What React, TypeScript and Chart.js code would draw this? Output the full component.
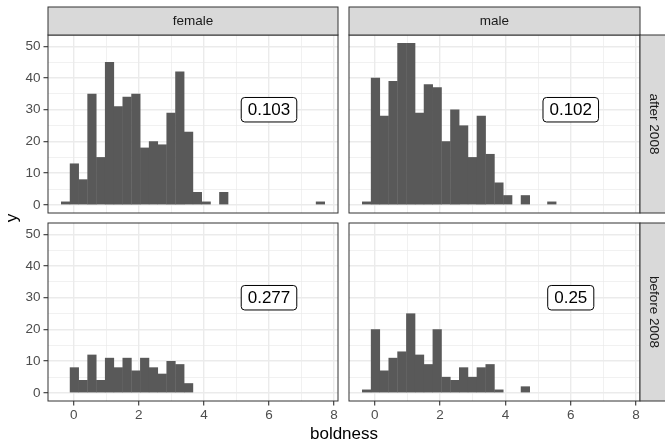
import { useEffect, useRef } from 'react';
import { Chart, registerables } from 'chart.js';
Chart.register(...registerables);

const W = 665;
const H = 441;
const FONT = '"Liberation Sans", Arial, Helvetica, sans-serif';

// histogram bin centres (boldness)
const binCenters = [
  -0.25, 0.02, 0.29, 0.56, 0.83, 1.1, 1.37, 1.64, 1.91, 2.18,
  2.45, 2.72, 2.99, 3.26, 3.53, 3.8, 4.07, 4.34, 4.61, 4.88,
  5.15, 5.42, 5.69, 5.96, 6.23, 6.5, 6.77, 7.04, 7.31, 7.58,
];
const femaleAfter = [1, 13, 8, 35, 15, 45, 31, 34, 35, 18, 20, 19, 29, 42, 23, 4, 1, 0, 4, 0, 0, 0, 0, 0, 0, 0, 0, 0, 0, 1];
const maleAfter = [1, 40, 28, 39, 51, 51, 29, 38, 37, 20, 30, 25, 15, 28, 16, 7, 3, 0, 3, 0, 0, 1, 0, 0, 0, 0, 0, 0, 0, 0];
const femaleBefore = [0, 8, 4, 12, 4, 11, 8, 11, 7, 11, 8, 6, 10, 9, 3, 0, 0, 0, 0, 0, 0, 0, 0, 0, 0, 0, 0, 0, 0, 0];
const maleBefore = [1, 20, 7, 11, 13, 25, 12, 9, 20, 5, 4, 8, 5, 8, 9, 1, 0, 0, 2, 0, 0, 0, 0, 0, 0, 0, 0, 0, 0, 0];

const colFacets = ['female', 'male'];
const rowFacets = ['after 2008', 'before 2008'];
const panelLabels = ['0.103', '0.102', '0.277', '0.25'];
const labelPos = [6, 30];

const xTickLabels = [0, 2, 4, 6, 8];
const xMinorGrid = [1, 3, 5, 7];
const yTickLabels = [0, 10, 20, 30, 40, 50];
const yMinorGrid = [5, 15, 25, 35, 45];
const xLimits = [-0.79, 8.12];
const yLimits = [-2.55, 53.55];

const xTitle = 'boldness';
const yTitle = 'y';

type Panel = {
  counts: number[];
  label: string;
  l: number; r: number; t: number; b: number;
  showY: boolean; showX: boolean;
  top?: string; right?: string; titles?: boolean;
};

const panels: Panel[] = [
  { counts: femaleAfter, label: panelLabels[0], l: 48, r: 338, t: 35, b: 213, showY: true, showX: false, top: colFacets[0] },
  { counts: maleAfter, label: panelLabels[1], l: 349, r: 640, t: 35, b: 213, showY: false, showX: false, top: colFacets[1], right: rowFacets[0] },
  { counts: femaleBefore, label: panelLabels[2], l: 48, r: 338, t: 223, b: 401, showY: true, showX: true, titles: true },
  { counts: maleBefore, label: panelLabels[3], l: 349, r: 640, t: 223, b: 401, showY: false, showX: true, right: rowFacets[1] },
];

function roundRect(ctx: CanvasRenderingContext2D, x: number, y: number, w: number, h: number, r: number) {
  ctx.beginPath();
  ctx.moveTo(x + r, y);
  ctx.arcTo(x + w, y, x + w, y + h, r);
  ctx.arcTo(x + w, y + h, x, y + h, r);
  ctx.arcTo(x, y + h, x, y, r);
  ctx.arcTo(x, y, x + w, y, r);
  ctx.closePath();
}

function makeConfig(p: Panel): any {
  const yW = p.showY ? p.l : 0;
  const xH = p.showX ? H - p.b : 0;
  const facetPlugin = {
    id: 'facet',
    afterDraw(chart: any) {
      const ctx: CanvasRenderingContext2D = chart.ctx;
      const a = chart.chartArea;
      ctx.save();
      // panel border
      ctx.strokeStyle = '#333333';
      ctx.lineWidth = 1;
      ctx.strokeRect(a.left, a.top, a.right - a.left, a.bottom - a.top);
      // top strip
      if (p.top) {
        const sy = 7;
        ctx.fillStyle = '#d9d9d9';
        ctx.fillRect(a.left, sy, a.right - a.left, a.top - sy);
        ctx.strokeRect(a.left, sy, a.right - a.left, a.top - sy);
        ctx.fillStyle = '#1a1a1a';
        ctx.font = `13.5px ${FONT}`;
        ctx.textAlign = 'center';
        ctx.textBaseline = 'middle';
        ctx.fillText(p.top, (a.left + a.right) / 2, (sy + a.top) / 2 + 0.5);
      }
      // right strip
      if (p.right) {
        const sw = 28;
        ctx.fillStyle = '#d9d9d9';
        ctx.fillRect(a.right, a.top, sw, a.bottom - a.top);
        ctx.strokeRect(a.right, a.top, sw, a.bottom - a.top);
        ctx.save();
        ctx.translate(a.right + sw / 2 - 0.5, (a.top + a.bottom) / 2);
        ctx.rotate(Math.PI / 2);
        ctx.fillStyle = '#1a1a1a';
        ctx.font = `13.5px ${FONT}`;
        ctx.textAlign = 'center';
        ctx.textBaseline = 'middle';
        ctx.fillText(p.right, 0, 0);
        ctx.restore();
      }
      // stat label
      const px = chart.scales.x.getPixelForValue(labelPos[0]);
      const py = chart.scales.y.getPixelForValue(labelPos[1]);
      ctx.font = `17px ${FONT}`;
      const tw = ctx.measureText(p.label).width;
      const bw = tw + 13;
      const bh = 24.5;
      roundRect(ctx, px - bw / 2, py - bh / 2, bw, bh, 3.5);
      ctx.fillStyle = '#ffffff';
      ctx.fill();
      ctx.strokeStyle = '#000000';
      ctx.lineWidth = 1;
      ctx.stroke();
      ctx.fillStyle = '#000000';
      ctx.textAlign = 'center';
      ctx.textBaseline = 'middle';
      ctx.fillText(p.label, px, py + 0.5);
      // axis titles
      if (p.titles) {
        ctx.fillStyle = '#000000';
        ctx.font = `17px ${FONT}`;
        ctx.textAlign = 'center';
        ctx.textBaseline = 'alphabetic';
        ctx.fillText(xTitle, (48 + 640) / 2, 439);
        ctx.save();
        ctx.translate(12.5, (35 + 401) / 2);
        ctx.rotate(-Math.PI / 2);
        ctx.textBaseline = 'middle';
        ctx.fillText(yTitle, 0, 0);
        ctx.restore();
      }
      ctx.restore();
    },
  };

  const xMajor = (v: number) => xTickLabels.includes(v);
  const yMajor = (v: number) => yTickLabels.includes(v);

  return {
    type: 'bar',
    data: {
      datasets: [
        {
          data: binCenters.map((c, i) => ({ x: c, y: p.counts[i] === 0 ? null : p.counts[i] })),
          backgroundColor: '#595959',
          borderWidth: 0,
          inflateAmount: 0.2,
          barPercentage: 1,
          categoryPercentage: 1,
        },
      ],
    },
    options: {
      responsive: false,
      animation: false,
      devicePixelRatio: 1,
      layout: {
        padding: {
          left: p.showY ? 0 : p.l,
          right: W - p.r,
          top: p.t,
          bottom: p.showX ? 0 : H - p.b,
        },
      },
      plugins: {
        legend: { display: false },
        tooltip: { enabled: false },
        title: { display: false },
      },
      scales: {
        x: {
          type: 'linear',
          offset: false,
          min: xLimits[0],
          max: xLimits[1],
          afterBuildTicks: (s: any) => {
            s.ticks = [...xTickLabels, ...xMinorGrid].sort((a, b) => a - b).map((v) => ({ value: v }));
          },
          afterFit: (s: any) => {
            s.height = xH;
          },
          grid: {
            offset: false,
            color: '#ebebeb',
            lineWidth: (c: any) => (c.tick && xMajor(c.tick.value) ? 1.4 : 0.7),
            drawTicks: p.showX,
            tickLength: 4.5,
            tickWidth: 1.1,
            tickColor: (c: any) => (c.tick && xMajor(c.tick.value) ? '#333333' : 'rgba(0,0,0,0)'),
          },
          border: { display: false },
          ticks: {
            display: p.showX,
            autoSkip: false,
            maxRotation: 0,
            minRotation: 0,
            padding: 2,
            color: '#4d4d4d',
            font: { family: FONT, size: 13.5 },
            callback: (v: any) => (xMajor(v) ? String(v) : ''),
          },
        },
        y: {
          type: 'linear',
          min: yLimits[0],
          max: yLimits[1],
          afterBuildTicks: (s: any) => {
            s.ticks = [...yTickLabels, ...yMinorGrid].sort((a, b) => a - b).map((v) => ({ value: v }));
          },
          afterFit: (s: any) => {
            s.width = yW;
          },
          grid: {
            color: '#ebebeb',
            lineWidth: (c: any) => (c.tick && yMajor(c.tick.value) ? 1.4 : 0.7),
            drawTicks: p.showY,
            tickLength: 4.5,
            tickWidth: 1.1,
            tickColor: (c: any) => (c.tick && yMajor(c.tick.value) ? '#333333' : 'rgba(0,0,0,0)'),
          },
          border: { display: false },
          ticks: {
            display: p.showY,
            autoSkip: false,
            padding: 3,
            color: '#4d4d4d',
            font: { family: FONT, size: 13.5 },
            callback: (v: any) => (yMajor(v) ? String(v) : ''),
          },
        },
      },
    },
    plugins: [facetPlugin],
  };
}

export default function App() {
  const canvases = useRef<(HTMLCanvasElement | null)[]>([]);
  useEffect(() => {
    const charts = panels.map((p, i) => new Chart(canvases.current[i] as HTMLCanvasElement, makeConfig(p)));
    return () => charts.forEach((c) => c.destroy());
  }, []);
  return (
    <div style={{ position: 'fixed', left: 0, top: 0, width: W, height: H, background: '#ffffff', overflow: 'hidden' }}>
      {panels.map((_, i) => (
        <canvas
          key={i}
          ref={(el) => {
            canvases.current[i] = el;
          }}
          width={W}
          height={H}
          style={{ position: 'absolute', left: 0, top: 0, width: W, height: H }}
        />
      ))}
    </div>
  );
}
